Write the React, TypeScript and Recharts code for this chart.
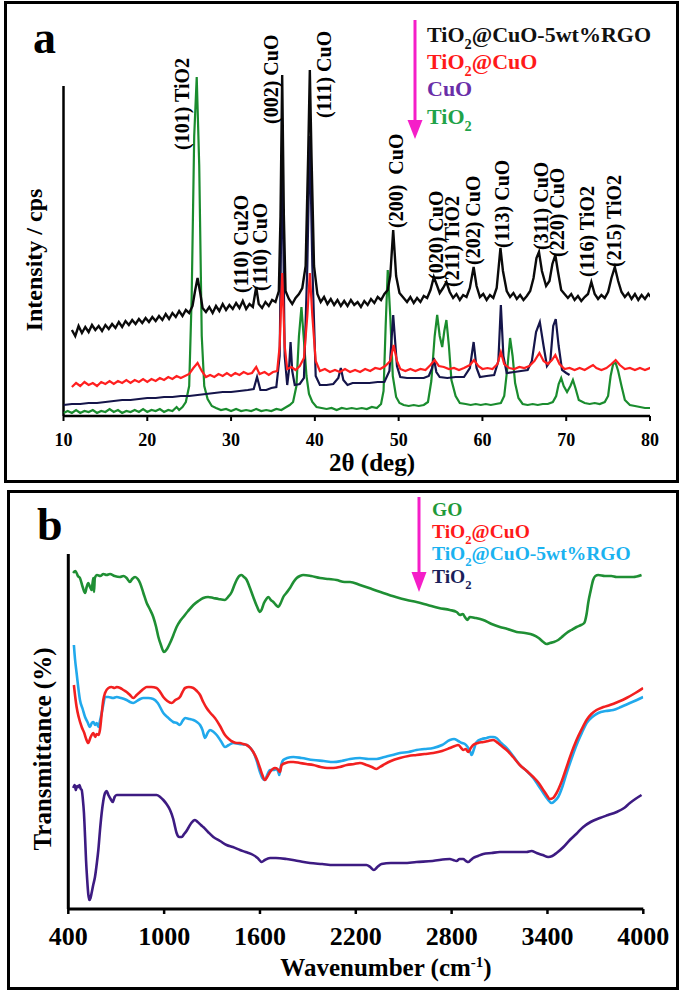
import React from 'react';
import { ComposedChart, Line, Scatter, XAxis, YAxis, ReferenceLine } from 'recharts';

const SERIF = "'Liberation Serif', 'Times New Roman', serif";

// ---- panel a: XRD, [2θ (deg), intensity (a.u.)] ----
const xrdTicks = [10, 20, 30, 40, 50, 60, 70, 80];

const xrdRgo = [
  [11.0, 86], [11.4, 80], [11.8, 90], [12.2, 83], [12.6, 89], [13.0, 84], [13.4, 91], [13.8, 86], [14.2, 90], [14.6, 85],
  [15.0, 91], [15.4, 87], [15.8, 92], [16.2, 88], [16.6, 94], [17.0, 89], [17.4, 95], [17.8, 91], [18.2, 96], [18.6, 92],
  [19.0, 97], [19.4, 93], [19.8, 98], [20.2, 94], [20.6, 99], [21.0, 95], [21.4, 100], [21.8, 96], [22.2, 102], [22.6, 97],
  [23.0, 103], [23.4, 99], [23.8, 105], [24.2, 100], [24.6, 106], [25.0, 103], [25.4, 110], [25.7, 125], [26.0, 138], [26.3, 124],
  [26.6, 108], [27.0, 104], [27.4, 109], [27.8, 103], [28.2, 110], [28.6, 105], [29.0, 112], [29.4, 106], [29.8, 111], [30.2, 107],
  [30.6, 113], [31.0, 108], [31.4, 115], [31.8, 107], [32.2, 112], [32.6, 109], [33.0, 129], [33.3, 112], [33.7, 108], [34.1, 114],
  [34.5, 110], [34.9, 116], [35.3, 114], [35.7, 125], [35.9, 200], [36.1, 341], [36.3, 200], [36.5, 125], [36.9, 117], [37.3, 112],
  [37.7, 118], [38.1, 122], [38.5, 128], [38.9, 150], [39.2, 260], [39.4, 346], [39.6, 260], [39.9, 150], [40.3, 122], [40.7, 114],
  [41.1, 119], [41.5, 112], [41.9, 117], [42.3, 111], [42.7, 116], [43.1, 110], [43.5, 115], [43.9, 110], [44.3, 116], [44.7, 111],
  [45.1, 114], [45.5, 109], [45.9, 115], [46.3, 111], [46.7, 117], [47.1, 113], [47.5, 119], [47.9, 116], [48.3, 122], [48.7, 126],
  [49.0, 140], [49.35, 186], [49.7, 140], [50.1, 123], [50.6, 118], [51.0, 114], [51.4, 119], [51.8, 113], [52.2, 118], [52.6, 114],
  [53.0, 120], [53.4, 118], [53.8, 126], [54.2, 139], [54.6, 130], [54.9, 123], [55.3, 128], [55.7, 134], [56.1, 124], [56.5, 118],
  [56.9, 122], [57.3, 116], [57.7, 121], [58.1, 119], [58.5, 128], [58.95, 149], [59.3, 130], [59.7, 119], [60.1, 122], [60.5, 116],
  [60.9, 121], [61.3, 118], [61.7, 128], [61.95, 150], [62.15, 168], [62.45, 145], [62.9, 125], [63.3, 119], [63.7, 123], [64.1, 117],
  [64.5, 121], [64.9, 116], [65.3, 120], [65.7, 125], [66.1, 138], [66.45, 158], [66.75, 164], [67.1, 145], [67.6, 130], [68.0, 135],
  [68.35, 152], [68.7, 161], [69.0, 145], [69.4, 126], [69.8, 122], [70.2, 118], [70.6, 122], [71.0, 116], [71.4, 120], [71.8, 115],
  [72.2, 119], [72.6, 122], [73.0, 134], [73.4, 122], [73.8, 117], [74.2, 121], [74.6, 118], [75.0, 124], [75.4, 138], [75.8, 149],
  [76.2, 135], [76.6, 124], [77.0, 119], [77.4, 123], [77.8, 117], [78.2, 122], [78.6, 116], [79.0, 121], [79.4, 117], [79.8, 122],
  [80.2, 118], [80.5, 123],
];

const xrdTiCu = [
  [11.0, 29], [11.5, 33], [12.0, 30], [12.5, 34], [13.0, 31], [13.5, 33], [14.0, 30], [14.5, 34], [15.0, 32], [15.5, 35],
  [16.0, 32], [16.5, 35], [17.0, 33], [17.5, 36], [18.0, 33], [18.5, 36], [19.0, 34], [19.5, 37], [20.0, 34], [20.5, 37],
  [21.0, 35], [21.5, 38], [22.0, 36], [22.5, 39], [23.0, 37], [23.5, 40], [24.0, 38], [24.5, 40], [25.0, 42], [25.5, 48],
  [26.0, 53], [26.5, 45], [27.0, 39], [27.5, 41], [28.0, 39], [28.5, 42], [29.0, 40], [29.5, 43], [30.0, 40], [30.5, 43],
  [31.0, 41], [31.5, 44], [32.0, 42], [32.5, 43], [33.0, 49], [33.4, 42], [34.0, 44], [34.5, 41], [35.0, 44], [35.5, 45],
  [35.8, 70], [36.1, 143], [36.4, 70], [36.7, 47], [37.2, 49], [37.7, 46], [38.2, 50], [38.7, 58], [39.1, 100], [39.4, 143],
  [39.7, 100], [40.1, 55], [40.6, 45], [41.2, 47], [41.8, 44], [42.4, 46], [43.0, 44], [43.6, 47], [44.2, 44], [44.8, 46],
  [45.4, 44], [46.0, 47], [46.6, 45], [47.2, 48], [47.8, 47], [48.4, 50], [49.0, 55], [49.4, 71], [49.8, 55], [50.2, 47],
  [50.8, 45], [51.4, 47], [52.0, 45], [52.6, 47], [53.2, 46], [53.8, 51], [54.3, 56], [54.8, 50], [55.4, 49], [56.0, 47],
  [56.6, 48], [57.2, 46], [57.8, 48], [58.5, 51], [59.0, 56], [59.5, 50], [60.0, 47], [60.6, 48], [61.2, 47], [61.8, 52],
  [62.2, 64], [62.6, 52], [63.2, 48], [63.8, 47], [64.4, 49], [65.0, 48], [65.6, 50], [66.2, 55], [66.8, 63], [67.3, 55],
  [67.8, 52], [68.3, 56], [68.7, 61], [69.2, 52], [69.8, 47], [70.4, 48], [71.0, 46], [71.6, 48], [72.2, 46], [72.8, 49],
  [73.2, 51], [73.6, 48], [74.2, 46], [74.8, 48], [75.4, 52], [75.9, 56], [76.4, 51], [77.0, 47], [77.6, 48], [78.2, 46],
  [78.8, 48], [79.4, 46], [80.0, 48], [80.5, 47],
];

const xrdCuO = [
  [10.0, 11], [11.0, 12], [12.0, 12], [13.0, 13], [14.0, 13], [15.0, 14], [16.0, 15], [17.0, 16], [18.0, 16], [19.0, 17],
  [20.0, 18], [21.0, 18], [22.0, 19], [23.0, 19], [24.0, 20], [25.0, 20], [26.0, 21], [27.0, 22], [28.0, 23], [29.0, 24],
  [30.0, 24], [31.0, 25], [32.0, 26], [32.7, 27], [33.1, 39], [33.5, 26], [34.2, 26], [34.8, 28], [35.4, 29], [35.8, 60],
  [36.1, 270], [36.4, 60], [36.7, 31], [36.9, 45], [37.1, 74], [37.3, 45], [37.6, 31], [38.2, 32], [38.7, 38], [39.1, 150],
  [39.4, 280], [39.7, 150], [40.1, 40], [40.6, 31], [41.4, 31], [42.2, 32], [42.8, 38], [43.1, 48], [43.4, 36], [43.9, 31],
  [44.5, 33], [45.5, 33], [46.5, 33], [47.5, 34], [48.3, 34], [48.9, 45], [49.35, 101], [49.8, 50], [50.2, 39], [51.0, 38],
  [52.0, 38], [53.0, 38], [53.6, 40], [54.0, 48], [54.2, 58], [54.5, 44], [54.9, 39], [55.8, 38], [56.8, 39], [57.8, 39],
  [58.5, 48], [58.95, 74], [59.3, 48], [59.7, 39], [60.5, 40], [61.4, 41], [61.9, 55], [62.2, 111], [62.5, 60], [62.9, 43],
  [63.8, 44], [64.6, 45], [65.4, 46], [65.9, 55], [66.4, 84], [66.85, 94], [67.3, 70], [67.7, 50], [68.1, 55], [68.45, 90],
  [68.75, 97], [69.1, 70], [69.5, 46], [70.0, 43], [70.4, 41],
];

const xrdTiO2 = [
  [10.0, 3], [10.5, 5], [11.0, 3], [11.5, 6], [12.0, 3], [12.5, 5], [13.0, 4], [13.5, 6], [14.0, 3], [14.5, 5],
  [15.0, 4], [15.5, 7], [16.0, 4], [16.5, 6], [17.0, 3], [17.5, 5], [18.0, 4], [18.5, 6], [19.0, 4], [19.5, 7],
  [20.0, 4], [20.5, 6], [21.0, 5], [21.5, 7], [22.0, 4], [22.5, 6], [23.0, 5], [23.5, 9], [23.8, 6], [24.2, 9],
  [24.6, 14], [25.0, 30], [25.3, 120], [25.6, 280], [25.9, 339], [26.2, 250], [26.5, 80], [26.8, 30], [27.2, 17], [27.7, 10],
  [28.2, 8], [28.8, 6], [29.4, 7], [30.0, 5], [30.6, 7], [31.2, 5], [31.8, 6], [32.4, 5], [33.0, 7], [33.6, 5],
  [34.2, 6], [34.8, 5], [35.4, 7], [36.0, 6], [36.6, 9], [37.0, 11], [37.4, 14], [37.8, 30], [38.1, 80], [38.4, 109],
  [38.7, 75], [39.0, 40], [39.3, 22], [39.7, 14], [40.2, 9], [40.8, 8], [41.4, 7], [42.0, 8], [42.6, 6], [43.2, 8],
  [43.8, 7], [44.4, 8], [45.0, 7], [45.6, 8], [46.2, 7], [46.8, 9], [47.4, 8], [47.9, 12], [48.2, 25], [48.45, 90],
  [48.7, 146], [49.0, 100], [49.3, 40], [49.7, 19], [50.1, 13], [50.6, 11], [51.2, 10], [51.8, 11], [52.4, 10], [53.0, 11],
  [53.5, 14], [53.9, 35], [54.3, 80], [54.6, 101], [54.9, 80], [55.2, 69], [55.45, 85], [55.7, 96], [56.0, 70], [56.3, 36],
  [56.8, 20], [57.3, 13], [58.0, 12], [58.6, 11], [59.2, 12], [59.8, 11], [60.4, 12], [61.0, 11], [61.6, 12], [62.2, 13],
  [62.6, 20], [63.0, 50], [63.3, 78], [63.6, 60], [63.9, 33], [64.3, 18], [64.8, 12], [65.4, 11], [66.0, 12], [66.6, 11],
  [67.2, 12], [67.8, 12], [68.4, 14], [68.8, 20], [69.1, 32], [69.4, 38], [69.7, 30], [70.1, 24], [70.5, 30], [70.8, 36],
  [71.1, 28], [71.5, 16], [72.2, 13], [72.8, 12], [73.4, 13], [74.0, 12], [74.6, 14], [75.0, 20], [75.3, 40], [75.6, 52],
  [75.9, 53], [76.2, 45], [76.6, 30], [77.0, 16], [77.6, 11], [78.2, 10], [78.8, 9], [79.4, 8], [80.0, 8],
];

const xrdPeakLabels = [
  { label: '(101) TiO2', x: 24.2, y: 266 },
  { label: '(110) Cu2O', x: 31.2, y: 123 },
  { label: '(110) CuO', x: 33.4, y: 125 },
  { label: '(002) CuO', x: 34.8, y: 292 },
  { label: '(111) CuO', x: 41.1, y: 298 },
  { label: '(200)\u00a0\u00a0CuO', x: 49.7, y: 188 },
  { label: '(020) CuO', x: 54.4, y: 136 },
  { label: '(211) TiO2', x: 56.4, y: 129 },
  { label: '(202) CuO', x: 58.9, y: 151 },
  { label: '(113) CuO', x: 62.3, y: 168 },
  { label: '(311) CuO', x: 67.0, y: 166 },
  { label: '(220) CuO', x: 68.9, y: 159 },
  { label: '(116) TiO2', x: 72.5, y: 139 },
  { label: '(215) TiO2', x: 75.7, y: 149 },
];

// ---- panel b: FTIR, [wavenumber (cm-1), transmittance (a.u.)] ----
const ftirTicks = [400, 1000, 1600, 2200, 2800, 3400, 4000];

const ftirGO = [
  [430, 336], [445, 338], [460, 333], [473, 331], [490, 322], [505, 316], [515, 322], [525, 326], [536, 322], [546, 319],
  [552, 326], [557, 331], [561, 317], [566, 331], [580, 334], [600, 333], [620, 335], [640, 334], [661, 335], [690, 333],
  [723, 332], [745, 333], [765, 331], [786, 327], [800, 330], [818, 332], [835, 330], [849, 326], [870, 316], [891, 306],
  [910, 300], [932, 292], [950, 282], [964, 272], [980, 264], [999, 257], [1018, 260], [1037, 266], [1058, 274], [1078, 282],
  [1100, 288], [1120, 292], [1150, 298], [1183, 304], [1215, 308], [1245, 311], [1275, 312], [1308, 311], [1340, 310], [1381, 309],
  [1400, 312], [1423, 317], [1440, 324], [1454, 329], [1470, 333], [1485, 334], [1500, 332], [1517, 329], [1535, 322], [1558, 312],
  [1580, 303], [1600, 297], [1612, 300], [1625, 306], [1640, 310], [1652, 312], [1668, 309], [1684, 307], [1700, 304], [1715, 302],
  [1730, 306], [1746, 312], [1765, 316], [1788, 321], [1810, 327], [1830, 331], [1850, 333], [1871, 334], [1920, 333], [1976, 331],
  [2030, 330], [2080, 329], [2130, 327], [2164, 327], [2226, 324], [2300, 320], [2372, 316], [2450, 312], [2520, 309], [2580, 307],
  [2650, 304], [2720, 301], [2789, 299], [2831, 297], [2852, 294], [2870, 295], [2883, 292], [2898, 289], [2914, 292], [2950, 291],
  [2998, 289], [3050, 285], [3102, 282], [3150, 280], [3207, 277], [3260, 276], [3311, 274], [3345, 271], [3374, 267], [3395, 265],
  [3415, 266], [3440, 267], [3467, 269], [3490, 272], [3520, 276], [3550, 279], [3582, 282], [3610, 284], [3630, 286], [3645, 295],
  [3655, 306], [3670, 318], [3686, 329], [3700, 333], [3718, 334], [3760, 333], [3800, 333], [3833, 332], [3880, 332], [3937, 332],
  [3989, 334],
];

const ftirTiCu = [
  [435, 224], [445, 210], [452, 202], [465, 192], [484, 182], [500, 176], [512, 170], [525, 166], [540, 172], [557, 176],
  [568, 172], [578, 175], [590, 174], [598, 179], [609, 195], [619, 209], [630, 216], [651, 221], [670, 222], [690, 221],
  [703, 222], [725, 221], [745, 219], [765, 217], [786, 214], [807, 211], [828, 214], [849, 217], [870, 220], [891, 222],
  [920, 222], [953, 221], [975, 217], [995, 212], [1020, 208], [1047, 206], [1070, 209], [1099, 212], [1115, 217], [1131, 221],
  [1155, 222], [1183, 221], [1205, 218], [1225, 214], [1245, 207], [1266, 201], [1290, 196], [1318, 191], [1350, 183], [1381, 174],
  [1405, 170], [1433, 167], [1455, 166], [1475, 166], [1495, 165], [1517, 164], [1540, 161], [1558, 157], [1580, 150], [1600, 141],
  [1615, 134], [1631, 129], [1645, 132], [1663, 137], [1680, 140], [1694, 141], [1710, 140], [1725, 137], [1736, 144], [1760, 146],
  [1790, 147], [1809, 147], [1850, 146], [1890, 145], [1934, 144], [1980, 142], [2020, 141], [2059, 141], [2100, 142], [2143, 144],
  [2190, 145], [2226, 146], [2267, 144], [2300, 142], [2330, 140], [2350, 142], [2372, 144], [2420, 148], [2476, 151], [2530, 153],
  [2580, 154], [2630, 155], [2685, 156], [2740, 158], [2789, 161], [2820, 163], [2841, 164], [2860, 161], [2872, 159], [2888, 160],
  [2904, 157], [2920, 161], [2935, 164], [2965, 166], [2998, 167], [3030, 168], [3060, 169], [3090, 166], [3120, 162], [3144, 159],
  [3185, 152], [3227, 144], [3270, 138], [3311, 132], [3345, 126], [3374, 119], [3395, 114], [3415, 110], [3435, 111], [3457, 116],
  [3490, 128], [3520, 142], [3550, 156], [3582, 169], [3615, 180], [3645, 189], [3675, 195], [3707, 199], [3750, 202], [3791, 204],
  [3840, 207], [3895, 211], [3950, 216], [3999, 221],
];

const ftirRgo = [
  [435, 264], [442, 250], [452, 236], [462, 222], [473, 209], [490, 200], [505, 192], [520, 187], [536, 182], [547, 186],
  [557, 187], [568, 184], [578, 186], [588, 182], [598, 188], [609, 196], [620, 205], [630, 212], [651, 212], [680, 211],
  [703, 212], [730, 211], [765, 209], [786, 207], [807, 206], [830, 208], [850, 210], [870, 211], [900, 211], [932, 210],
  [960, 206], [995, 196], [1020, 192], [1040, 189], [1057, 187], [1080, 186], [1099, 184], [1115, 188], [1131, 191], [1160, 190],
  [1183, 189], [1205, 187], [1225, 184], [1240, 179], [1256, 171], [1272, 176], [1287, 179], [1310, 177], [1329, 174], [1355, 168],
  [1381, 162], [1405, 164], [1433, 166], [1470, 165], [1517, 164], [1540, 161], [1558, 157], [1580, 148], [1600, 137], [1615, 131],
  [1631, 129], [1645, 134], [1663, 139], [1685, 139], [1705, 140], [1715, 137], [1721, 134], [1730, 142], [1746, 149], [1770, 151],
  [1809, 152], [1860, 151], [1934, 149], [2000, 148], [2059, 147], [2110, 148], [2164, 150], [2226, 151], [2280, 150], [2330, 150],
  [2380, 152], [2430, 154], [2476, 156], [2530, 157], [2580, 159], [2630, 160], [2685, 161], [2740, 164], [2789, 169], [2815, 170],
  [2841, 168], [2865, 166], [2883, 165], [2900, 162], [2915, 158], [2925, 154], [2940, 160], [2956, 167], [2990, 170], [3020, 171],
  [3040, 172], [3060, 172], [3081, 171], [3110, 166], [3144, 161], [3185, 153], [3227, 144], [3270, 138], [3311, 131], [3345, 123],
  [3374, 116], [3400, 110], [3426, 106], [3445, 108], [3467, 112], [3495, 123], [3520, 136], [3550, 150], [3582, 164], [3615, 176],
  [3645, 186], [3680, 192], [3718, 196], [3765, 198], [3812, 199], [3860, 202], [3916, 206], [3960, 209], [3999, 212],
];

const ftirTiO2 = [
  [431, 121], [440, 124], [447, 119], [455, 123], [463, 122], [470, 124], [478, 120], [484, 119], [491, 110], [498, 96],
  [505, 72], [511, 49], [518, 30], [525, 15], [532, 9], [539, 11], [546, 16], [556, 24], [567, 32], [578, 45],
  [588, 59], [598, 78], [609, 96], [619, 108], [630, 116], [640, 118], [651, 114], [665, 110], [678, 107], [690, 112],
  [703, 114], [730, 114], [765, 114], [800, 114], [840, 114], [870, 114], [910, 114], [953, 114], [975, 112], [995, 109],
  [1015, 105], [1037, 99], [1057, 90], [1070, 81], [1078, 76], [1095, 72], [1110, 72], [1125, 75], [1140, 78], [1151, 81],
  [1170, 86], [1193, 89], [1210, 87], [1230, 84], [1245, 82], [1275, 77], [1308, 72], [1350, 68], [1391, 64], [1430, 62],
  [1475, 59], [1510, 57], [1558, 54], [1585, 51], [1611, 47], [1630, 49], [1663, 51], [1700, 51], [1767, 50], [1840, 48],
  [1913, 46], [1990, 45], [2059, 44], [2130, 44], [2200, 44], [2267, 44], [2290, 42], [2313, 39], [2335, 42], [2361, 45],
  [2420, 46], [2500, 46], [2580, 47], [2680, 48], [2789, 50], [2810, 49], [2831, 48], [2850, 50], [2872, 50], [2890, 48],
  [2904, 47], [2920, 49], [2935, 51], [2965, 53], [2998, 55], [3050, 56], [3102, 57], [3180, 57], [3269, 57], [3300, 58],
  [3332, 56], [3370, 54], [3405, 52], [3430, 53], [3457, 56], [3500, 62], [3540, 69], [3580, 75], [3624, 82], [3670, 87],
  [3728, 91], [3780, 94], [3833, 97], [3880, 101], [3916, 106], [3950, 110], [3989, 114],
];

const pts = (arr: number[][]) => arr.map(([x, y]) => ({ x, y }));

const MAGENTA = '#f51ec8';

function PeakLabel(props: any) {
  const { cx, cy, payload } = props;
  if (cx == null || cy == null) return null;
  return (
    <text x={cx} y={cy} transform={`rotate(-90 ${cx} ${cy})`} fontFamily={SERIF} fontWeight="bold"
      fontSize={20} fill="#000" dominantBaseline="central">
      {payload.label}
    </text>
  );
}

// TiO<sub>2</sub> + rest, as svg tspans
function TiO2Text({ x, y, size, fill, rest }: { x: number; y: number; size: number; fill: string; rest: string }) {
  const sub = Math.round(size * 0.3);
  return (
    <text x={x} y={y} fontFamily={SERIF} fontWeight="bold" fontSize={size} fill={fill}>
      <tspan>TiO</tspan>
      <tspan dy={sub} fontSize={size * 0.65}>2</tspan>
      <tspan dy={-sub}>{rest}</tspan>
    </text>
  );
}

const tickA = { fontSize: 18, fontWeight: 'bold', fill: '#000', fontFamily: SERIF } as const;
const tickB = { fontSize: 26, fontWeight: 'bold', fill: '#000', fontFamily: SERIF } as const;

export default function App() {
  return (
    <div style={{ position: 'absolute', left: 0, top: 0, width: 685, height: 992, background: '#fff' }}>
      {/* panel frames */}
      <div style={{ position: 'absolute', left: 4, top: 1, width: 675, height: 482, border: '3px solid #000', boxSizing: 'border-box' }} />
      <div style={{ position: 'absolute', left: 7, top: 490, width: 672, height: 500, border: '3px solid #000', boxSizing: 'border-box' }} />

      {/* a: XRD */}
      <div style={{ position: 'absolute', left: 0, top: 0 }}>
        <ComposedChart width={685} height={485} margin={{ top: 56, right: 35, bottom: 39, left: 63.5 }}>
          <XAxis type="number" dataKey="x" domain={[10, 80]} ticks={xrdTicks} interval={0} allowDataOverflow
            axisLine={{ stroke: '#000', strokeWidth: 2.5 }} tickLine={{ stroke: '#000', strokeWidth: 2 }}
            tickSize={5} tickMargin={12} tick={tickA} />
          <XAxis xAxisId="lab" hide type="number" dataKey="x" domain={[10, 80]} />
          <YAxis hide type="number" domain={[0, 360]} allowDataOverflow />
          <YAxis yAxisId="lab" hide type="number" domain={[0, 360]} />
          <ReferenceLine segment={[{ x: 10, y: 0 }, { x: 10, y: 330 }]} stroke="#000" strokeWidth={2.5} />
          <Line data={pts(xrdTiO2)} dataKey="y" type="linear" stroke="#1a8c2e" strokeWidth={2.2} dot={false} isAnimationActive={false} />
          <Line data={pts(xrdCuO)} dataKey="y" type="linear" stroke="#15154a" strokeWidth={2.2} dot={false} isAnimationActive={false} />
          <Line data={pts(xrdTiCu)} dataKey="y" type="linear" stroke="#ff1f1f" strokeWidth={2.2} dot={false} isAnimationActive={false} />
          <Line data={pts(xrdRgo)} dataKey="y" type="linear" stroke="#0a0a0a" strokeWidth={2.4} dot={false} isAnimationActive={false} />
          <Scatter xAxisId="lab" yAxisId="lab" data={xrdPeakLabels} dataKey="y" shape={PeakLabel} isAnimationActive={false} />
        </ComposedChart>
      </div>

      {/* b: FTIR */}
      <div style={{ position: 'absolute', left: 0, top: 490 }}>
        <ComposedChart width={685} height={500} margin={{ top: 64, right: 41.7, bottom: 51, left: 68.3 }}>
          <XAxis type="number" dataKey="x" domain={[400, 4000]} ticks={ftirTicks} interval={0} allowDataOverflow
            axisLine={{ stroke: '#000', strokeWidth: 3 }} tickLine={{ stroke: '#000', strokeWidth: 2.5 }}
            tickSize={5} tickMargin={13} tick={tickB} />
          <YAxis hide type="number" domain={[0, 355]} allowDataOverflow />
          <ReferenceLine segment={[{ x: 400, y: 0 }, { x: 400, y: 355 }]} stroke="#000" strokeWidth={3} />
          <Line data={pts(ftirGO)} dataKey="y" type="monotone" stroke="#1f8f34" strokeWidth={2.6} dot={false} isAnimationActive={false} />
          <Line data={pts(ftirTiO2)} dataKey="y" type="monotone" stroke="#3d1b82" strokeWidth={2.6} dot={false} isAnimationActive={false} />
          <Line data={pts(ftirRgo)} dataKey="y" type="monotone" stroke="#21a9ec" strokeWidth={2.6} dot={false} isAnimationActive={false} />
          <Line data={pts(ftirTiCu)} dataKey="y" type="monotone" stroke="#f22020" strokeWidth={2.6} dot={false} isAnimationActive={false} />
        </ComposedChart>
      </div>

      {/* text overlay */}
      <svg width={685} height={992} style={{ position: 'absolute', left: 0, top: 0, pointerEvents: 'none' }}>
        <text x={33} y={53} fontFamily={SERIF} fontWeight="bold" fontSize={46}>a</text>
        <text x={42} y={260} transform="rotate(-90 42 260)" textAnchor="middle" fontFamily={SERIF} fontWeight="bold" fontSize={24}>Intensity / cps</text>
        <text x={372} y={471} textAnchor="middle" fontFamily={SERIF} fontWeight="bold" fontSize={25}>2θ (deg)</text>

        <line x1={415} y1={20} x2={415} y2={124} stroke={MAGENTA} strokeWidth={3} />
        <polygon points="407.5,120 422.5,120 415,139" fill={MAGENTA} />
        <TiO2Text x={427} y={42} size={22} fill="#111" rest="@CuO-5wt%RGO" />
        <TiO2Text x={427} y={69} size={22} fill="#ff1a1a" rest="@CuO" />
        <text x={427} y={96} fontFamily={SERIF} fontWeight="bold" fontSize={22} fill="#6a2ea8">CuO</text>
        <TiO2Text x={427} y={124} size={22} fill="#1fa34a" rest="" />

        <text x={37} y={540} fontFamily={SERIF} fontWeight="bold" fontSize={46}>b</text>
        <text x={51} y={749} transform="rotate(-90 51 749)" textAnchor="middle" fontFamily={SERIF} fontWeight="bold" fontSize={25}>Transmittance (%)</text>
        <text x={386} y={976} textAnchor="middle" fontFamily={SERIF} fontWeight="bold" fontSize={25}>
          <tspan>Wavenumber (cm</tspan>
          <tspan dy={-9} fontSize={15}>-1</tspan>
          <tspan dy={9}>)</tspan>
        </text>

        <line x1={419} y1={497} x2={419} y2={576} stroke={MAGENTA} strokeWidth={3} />
        <polygon points="411.5,572 426.5,572 419,592" fill={MAGENTA} />
        <text x={432} y={516} fontFamily={SERIF} fontWeight="bold" fontSize={19.5} fill="#1f9a3a">GO</text>
        <TiO2Text x={432} y={538} size={19.5} fill="#ff1a1a" rest="@CuO" />
        <TiO2Text x={432} y={560} size={19.5} fill="#1ab2f0" rest="@CuO-5wt%RGO" />
        <TiO2Text x={432} y={583} size={19.5} fill="#1b1f5a" rest="" />
      </svg>
    </div>
  );
}
